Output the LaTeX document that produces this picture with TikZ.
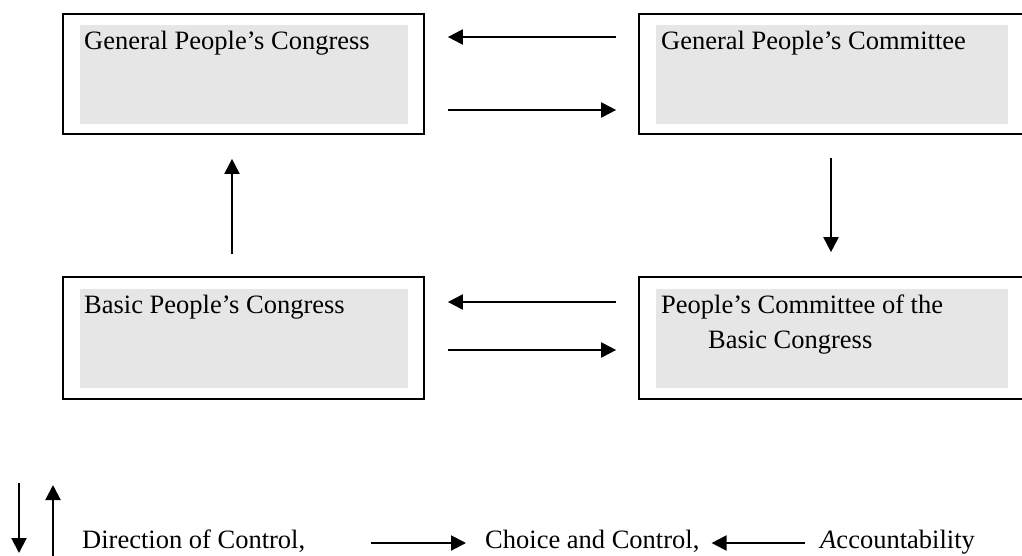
\documentclass[tikz,border=0pt]{standalone}
\usepackage{fontspec}
\setmainfont{Liberation Serif}
\usetikzlibrary{arrows.meta}
\definecolor{boxgray}{HTML}{E6E6E6}
\begin{document}
\begin{tikzpicture}[x=1pt,y=-1pt,
  frame/.style={draw=black, line width=1.7pt, fill=white, inner sep=0pt},
  shade/.style={fill=boxgray, draw=none, inner sep=0pt},
  lbl/.style={anchor=base west, inner sep=0pt, font=\fontsize{26.5}{32}\selectfont},
  arr/.style={line width=2pt, -{Triangle[length=15pt,width=15pt]}}]
\useasboundingbox (0,0) rectangle (1022,555);

% boxes
\node[frame, minimum width=361pt, minimum height=120pt] (gpc) at (243.5,74) {};
\node[shade, minimum width=328pt, minimum height=99pt] (gpcIn) at (244,74.5) {};
\node[lbl] (gpcT) at (84,49) {General People’s Congress};

\node[frame, minimum width=387pt, minimum height=120pt] (gcm) at (832.5,74) {};
\node[shade, minimum width=352pt, minimum height=99pt] (gcmIn) at (832,74.5) {};
\node[lbl] (gcmT) at (661,49) {General People’s Committee};

\node[frame, minimum width=361pt, minimum height=122pt] (bpc) at (243.5,338) {};
\node[shade, minimum width=328pt, minimum height=99pt] (bpcIn) at (244,338.5) {};
\node[lbl] (bpcT) at (84,313) {Basic People’s Congress};

\node[frame, minimum width=387pt, minimum height=122pt] (pcb) at (832.5,338) {};
\node[shade, minimum width=352pt, minimum height=99pt] (pcbIn) at (832,338.5) {};
\node[lbl] (pcbT1) at (661,313) {People’s Committee of the};
\node[lbl] (pcbT2) at (708,348) {Basic Congress};

% helper coordinates
\coordinate (yA) at (0,37);
\coordinate (yB) at (0,110);
\coordinate (yC) at (0,302);
\coordinate (yD) at (0,350);
\coordinate (xU) at (232,0);
\coordinate (xD) at (831,0);

% connectors
\draw[arr, shorten <=22pt, shorten >=23pt] (gcm.west |- yA) -- (gpc.east |- yA);
\draw[arr, shorten <=23pt, shorten >=22pt] (gpc.east |- yB) -- (gcm.west |- yB);
\draw[arr, shorten <=22pt, shorten >=23pt] (pcb.west |- yC) -- (bpc.east |- yC);
\draw[arr, shorten <=23pt, shorten >=22pt] (bpc.east |- yD) -- (pcb.west |- yD);
\draw[arr, shorten <=22pt, shorten >=24pt] (bpc.north -| xU) -- (gpc.south -| xU);
\draw[arr, shorten <=23pt, shorten >=24pt] (gcm.south -| xD) -- (pcb.north -| xD);

% legend
\node[lbl] (dir) at (82,548) {Direction of Control,};
\node[lbl] (cho) at (485,548) {Choice and Control,};
\node[lbl] (acc) at (820,548) {\textit{A}ccountability};
\coordinate (yL) at (0,543);
\draw[arr, shorten <=66pt, shorten >=19pt] (dir.east |- yL) -- (cho.west |- yL);
\draw[arr, shorten <=15pt, shorten >=12pt] (acc.west |- yL) -- (cho.east |- yL);
\coordinate (ld1) at (19,483);
\coordinate (ld2) at (19,553);
\coordinate (lu1) at (53,556);
\coordinate (lu2) at (53,485);
\draw[arr] (ld1) -- (ld2);
\draw[arr] (lu1) -- (lu2);
\end{tikzpicture}
\end{document}
